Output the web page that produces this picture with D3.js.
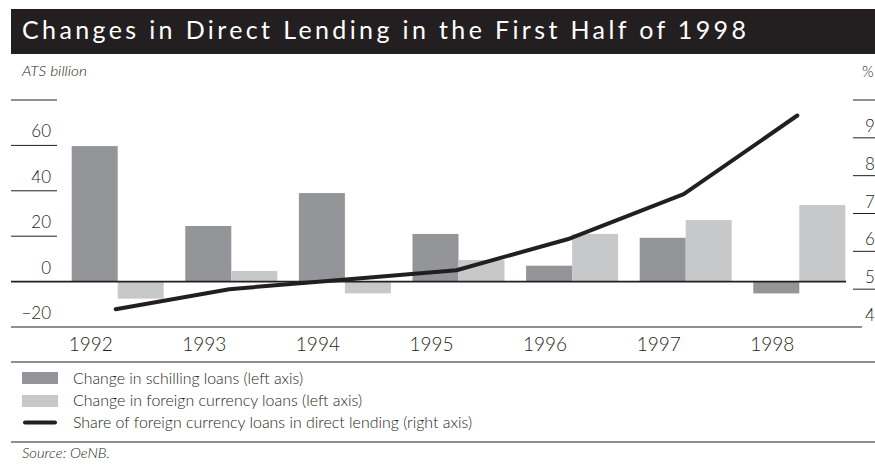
<!DOCTYPE html>
<html>
<head>
<meta charset="utf-8">
<script src="https://cdn.jsdelivr.net/npm/d3@7"></script>
<style>
  body { margin: 0; background: #fff; }
  text { font-family: Lato, "Open Sans", sans-serif; fill: #231f20; }
</style>
</head>
<body>
<div id="chart"></div>
<script>
// data
var years = ["1992", "1993", "1994", "1995", "1996", "1997", "1998"];
var schilling = [59.7, 24.5, 39.0, 21.0, 7.0, 19.3, -5.2];
var foreign = [-7.5, 4.7, -5.2, 9.5, 21.0, 27.1, 33.7];
var share = [4.47, 5.0, 5.25, 5.5, 6.34, 7.51, 9.59];
var leftTicks = [-20, 0, 20, 40, 60, 80];
var rightTicks = [4, 5, 6, 7, 8, 9, 10];
var legendLabels = ["Change in schilling loans (left axis)",
                    "Change in foreign currency loans (left axis)",
                    "Share of foreign currency loans in direct lending (right axis)"];

var W = 875, H = 465;
var dark = "#231f20", barDark = "#939598", barLight = "#c7c8ca";

var svg = d3.select("#chart").append("svg")
    .attr("width", W)
    .attr("height", H);

// title band
svg.append("rect").attr("x", 11).attr("y", 9).attr("width", W - 11).attr("height", 45).attr("fill", dark);
svg.append("text")
    .attr("x", 22).attr("y", 39)
    .attr("font-size", 25)
    .attr("textLength", 724)
    .attr("lengthAdjust", "spacing")
    .style("fill", "#fff")
    .text("Changes in Direct Lending in the First Half of 1998");

svg.append("text").attr("x", 22).attr("y", 76)
    .attr("font-size", 14).attr("font-style", "italic").attr("font-weight", 300)
    .attr("textLength", 65).attr("lengthAdjust", "spacingAndGlyphs")
    .text("ATS billion");
svg.append("text").attr("x", 862).attr("y", 77)
    .attr("font-size", 15).attr("font-weight", 300)
    .text("%");

// scales
var x = d3.scaleBand().domain(years).range([60.9, 856.1]).paddingInner(0.19).paddingOuter(0.095);
var half = x.bandwidth() / 2;
var yL = d3.scaleLinear().domain([-20, 80]).range([327, 100]);
var yR = d3.scaleLinear().domain([4, 10]).range([327, 100]);

// left axis ticks
var lt = svg.append("g").attr("class", "left-axis");
lt.selectAll("line").data(leftTicks.filter(function (d) { return d > 0; }))
    .enter().append("line")
    .attr("x1", 11).attr("x2", 57)
    .attr("y1", function (d) { return yL(d); }).attr("y2", function (d) { return yL(d); })
    .attr("stroke", dark).attr("stroke-width", 1);
lt.selectAll("text").data(leftTicks.filter(function (d) { return d < 80; }))
    .enter().append("text")
    .attr("x", 51).attr("y", function (d) { return yL(d) - 8; })
    .attr("text-anchor", "end")
    .attr("font-size", 17).attr("font-weight", 300)
    .text(function (d) { return d < 0 ? "\u2212" + Math.abs(d) : d; });

// right axis ticks
var rt = svg.append("g").attr("class", "right-axis");
rt.selectAll("line").data(rightTicks.filter(function (d) { return d > 4; }))
    .enter().append("line")
    .attr("x1", 853).attr("x2", W)
    .attr("y1", function (d) { return yR(d); }).attr("y2", function (d) { return yR(d); })
    .attr("stroke", dark).attr("stroke-width", 1);
rt.selectAll("text").data(rightTicks.filter(function (d) { return d < 10; }))
    .enter().append("text")
    .attr("x", 865).attr("y", function (d) { return yR(d) - 6; })
    .attr("font-size", 17).attr("font-weight", 300)
    .text(function (d) { return d; });

// bars
var bars = svg.append("g").attr("class", "bars");
bars.selectAll("rect.schilling").data(years)
    .enter().append("rect")
    .attr("class", "schilling")
    .attr("x", function (d) { return x(d); })
    .attr("width", half)
    .attr("y", function (d, i) { return yL(Math.max(0, schilling[i])); })
    .attr("height", function (d, i) { return Math.abs(yL(schilling[i]) - yL(0)); })
    .attr("fill", barDark);
bars.selectAll("rect.foreign").data(years)
    .enter().append("rect")
    .attr("class", "foreign")
    .attr("x", function (d) { return x(d) + half; })
    .attr("width", half)
    .attr("y", function (d, i) { return yL(Math.max(0, foreign[i])); })
    .attr("height", function (d, i) { return Math.abs(yL(foreign[i]) - yL(0)); })
    .attr("fill", barLight);

// zero line and bottom line
svg.append("line").attr("x1", 11).attr("x2", 846)
    .attr("y1", yL(0)).attr("y2", yL(0))
    .attr("stroke", dark).attr("stroke-width", 1.6);
svg.append("line").attr("x1", 11).attr("x2", 862)
    .attr("y1", yL(-20)).attr("y2", yL(-20))
    .attr("stroke", dark).attr("stroke-width", 1.2);

// share line
var line = d3.line()
    .x(function (d, i) { return x(years[i]) + half - 2; })
    .y(function (d) { return yR(d); });
svg.append("path")
    .datum(share)
    .attr("d", line)
    .attr("fill", "none")
    .attr("stroke", dark)
    .attr("stroke-width", 4)
    .attr("stroke-linecap", "round")
    .attr("stroke-linejoin", "round");

// year labels
svg.append("g").selectAll("text").data(years)
    .enter().append("text")
    .attr("x", function (d) { return x(d) + half / 2 - 4; })
    .attr("y", 351)
    .attr("text-anchor", "middle")
    .attr("font-size", 19).attr("font-weight", 300)
    .text(function (d) { return d; });

// separators
[362, 442].forEach(function (yy) {
    svg.append("line").attr("x1", 11).attr("x2", W)
        .attr("y1", yy).attr("y2", yy)
        .attr("stroke", dark).attr("stroke-width", 1.2);
});

// legend
var legendWidths = [230, 289, 399];
var lg = svg.append("g").attr("class", "legend");
lg.append("rect").attr("x", 22).attr("y", 372).attr("width", 36).attr("height", 12).attr("fill", barDark);
lg.append("rect").attr("x", 22).attr("y", 395).attr("width", 36).attr("height", 12).attr("fill", barLight);
lg.append("line").attr("x1", 25).attr("x2", 55).attr("y1", 422.5).attr("y2", 422.5)
    .attr("stroke", dark).attr("stroke-width", 4).attr("stroke-linecap", "round");
lg.selectAll("text").data(legendLabels)
    .enter().append("text")
    .attr("x", 73)
    .attr("y", function (d, i) { return 384 + i * 22; })
    .attr("font-size", 16).attr("font-weight", 300)
    .attr("textLength", function (d, i) { return legendWidths[i]; })
    .attr("lengthAdjust", "spacingAndGlyphs")
    .text(function (d) { return d; });

svg.append("text").attr("x", 22).attr("y", 458)
    .attr("font-size", 14).attr("font-style", "italic").attr("font-weight", 300)
    .attr("textLength", 88).attr("lengthAdjust", "spacingAndGlyphs")
    .text("Source: OeNB.");
</script>
</body>
</html>
